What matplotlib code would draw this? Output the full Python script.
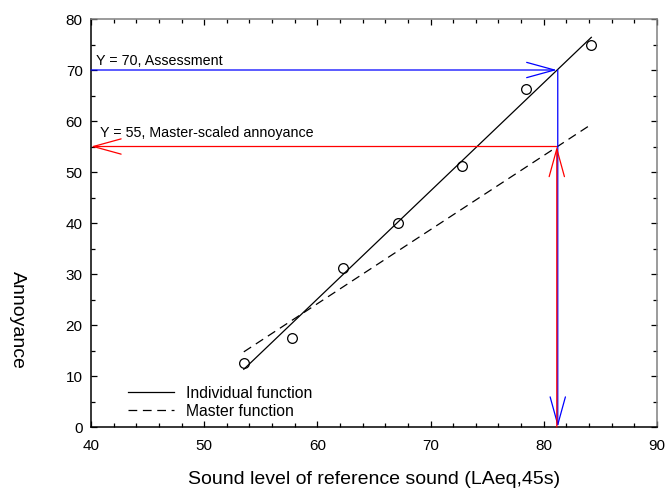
import matplotlib
matplotlib.use("Agg")
import matplotlib.pyplot as plt
from matplotlib.ticker import MultipleLocator
from matplotlib.transforms import offset_copy
import numpy as np

plt.rcParams['font.family'] = ['Liberation Sans', 'DejaVu Sans']

# measured points
level = [53.5, 57.8, 62.3, 67.1, 72.8, 78.4, 84.2]
annoyance = [12.5, 17.5, 31.2, 40.0, 51.2, 66.3, 75.0]

# fitted functions: annoyance = slope * level + intercept
ind_slope, ind_icpt = 2.12, -102.1
mas_slope, mas_icpt = 1.453, -63.0
fit_range = [53.5, 84.2]

# assessment reading
assess_y = 70
master_y = 55
assess_x = 81.15

fig = plt.figure(figsize=(6.68, 4.91), dpi=100)
ax = fig.add_axes([0.1362, 0.1303, 0.8473, 0.831])

xs = np.array(fit_range)
ax.plot(xs, ind_slope * xs + ind_icpt, color='black', lw=0.9, label='Individual function')
ax.plot(xs, mas_slope * xs + mas_icpt, color='black', lw=0.9, ls=(0, (7, 4.5)), label='Master function')
ax.plot(level, annoyance, ls='none', marker='o', ms=7, mfc='none', mec='black', mew=0.9)

def arrow(p_from, p_to, color, trans=None):
    kw = {}
    if trans is not None:
        kw = dict(xycoords=trans, textcoords=trans)
    ax.annotate('', xy=p_to, xytext=p_from,
                arrowprops=dict(arrowstyle='->,head_length=20,head_width=5.5',
                                mutation_scale=1, color=color, lw=0.9,
                                shrinkA=0, shrinkB=0), **kw)

# blue: assessment level across to the individual function, then down
arrow((40, assess_y), (assess_x, assess_y), 'blue')
shifted = offset_copy(ax.transData, fig=fig, x=0.7, y=0, units='points')
arrow((assess_x, assess_y), (assess_x, 0), 'blue', shifted)
# red: up to the master function, then across to the y axis
arrow((assess_x, 0), (assess_x, master_y), 'red')
arrow((assess_x, master_y), (40, master_y), 'red')

ax.text(40.4, 71.7, 'Y = 70, Assessment', fontsize=10.3, va='center')
ax.text(40.8, 57.7, 'Y = 55, Master-scaled annoyance', fontsize=10.3, va='center')

ax.set_xlim(40, 90)
ax.set_ylim(0, 80)
ax.xaxis.set_major_locator(MultipleLocator(10))
ax.xaxis.set_minor_locator(MultipleLocator(2))
ax.yaxis.set_major_locator(MultipleLocator(10))
ax.yaxis.set_minor_locator(MultipleLocator(5))
ax.tick_params(which='both', direction='in', top=True, right=True,
               labelsize=11, width=0.9)
ax.tick_params(which='major', length=4.5, pad=6)
ax.tick_params(which='minor', length=3)
ax.tick_params(axis='x', pad=8.5)
for side in ['top', 'right']:
    ax.spines[side].set_color('#808080')
for side in ax.spines:
    ax.spines[side].set_linewidth(1.1)

ax.set_xlabel('Sound level of reference sound (LAeq,45s)', fontsize=14)
ax.set_ylabel('Annoyance', fontsize=14, rotation=270, va='center', ha='center')
ax.xaxis.set_label_coords(0.5, -0.107)
ax.yaxis.set_label_coords(-0.130, 0.262)

ax.legend(loc='lower left', bbox_to_anchor=(0.055, 0.005), frameon=False,
          fontsize=11.3, handlelength=2.9, handletextpad=0.75,
          labelspacing=0.2, borderaxespad=0)

fig.savefig('out.png', dpi=100)
